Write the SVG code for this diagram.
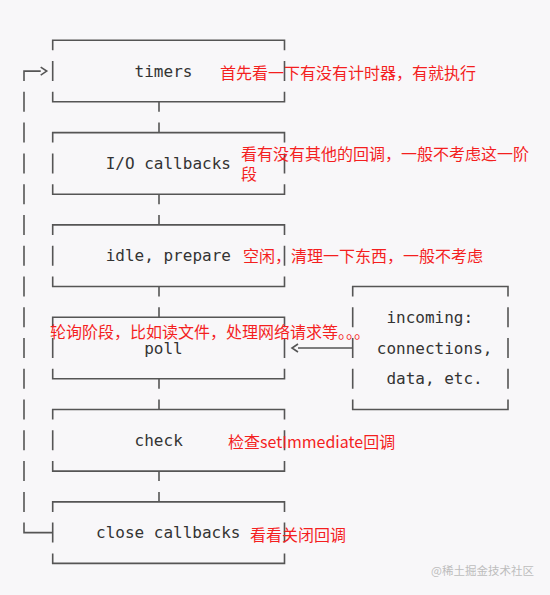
<svg xmlns="http://www.w3.org/2000/svg" width="550" height="595" viewBox="0 0 550 595">
<style>
.bg{fill:#f8f7f9}
.ln{fill:none;stroke:#555;stroke-width:1.6}
.mono{font-family:"DejaVu Sans Mono","Liberation Mono",monospace;font-size:16px;fill:#333}
.note{font-family:"Noto Sans CJK SC","Noto Sans",sans-serif;font-size:16px;fill:#f41f1f}
.wm{font-family:"Noto Sans CJK SC","Noto Sans",sans-serif;font-size:11.5px;fill:#bdbdbd}
</style>
<defs>
<marker id="chev" viewBox="0 0 6 8" refX="0" refY="4" markerWidth="6" markerHeight="8" markerUnits="userSpaceOnUse" orient="auto" overflow="visible">
<path d="M0,0 L6,4 L0,8" fill="none" stroke="#555" stroke-width="1.6"/>
</marker>
</defs>
<rect class="bg" x="0" y="0" width="550" height="595"/>
<g id="timers">
<path class="ln" d="M52.7,50.3V40.3H284.5V50.3M52.7,61.1V81.1M284.5,61.1V81.1M52.7,91.8V101.8H284.5V91.8"/>
<text class="mono" x="134.6" y="76.6">timers</text>
</g>
<g id="io-callbacks">
<path class="ln" d="M52.7,142.6V132.6H284.5V142.6M52.7,153.4V173.4M284.5,153.4V173.4M52.7,184.2V194.2H284.5V184.2"/>
<text class="mono" x="105.7" y="168.9">I/O callbacks</text>
</g>
<g id="idle-prepare">
<path class="ln" d="M52.7,234.9V224.9H284.5V234.9M52.7,245.7V265.7M284.5,245.7V265.7M52.7,276.5V286.5H284.5V276.5"/>
<text class="mono" x="105.7" y="261.2">idle, prepare</text>
</g>
<g id="poll">
<path class="ln" d="M52.7,327.2V317.2H284.5V327.2M52.7,338V358M284.5,338V358M52.7,368.8V378.8H284.5V368.8"/>
<text class="mono" x="144.2" y="353.5">poll</text>
</g>
<g id="check">
<path class="ln" d="M52.7,419.5V409.5H284.5V419.5M52.7,430.3V450.3M284.5,430.3V450.3M52.7,461.1V471.1H284.5V461.1"/>
<text class="mono" x="134.6" y="445.8">check</text>
</g>
<g id="close-callbacks">
<path class="ln" d="M52.7,511.9V501.9H284.5V511.9M52.7,522.6V542.6M284.5,522.6V542.6M52.7,553.4V563.4H284.5V553.4"/>
<text class="mono" x="96" y="538.1">close callbacks</text>
</g>
<g id="incoming">
<path class="ln" d="M352.7,296.5V286.5H508V296.5M352.7,307.2V327.2M508,307.2V327.2M352.7,338V358M508,338V358M352.7,368.8V388.8M508,368.8V388.8M352.7,399.5V409.5H508V399.5"/>
<text class="mono" x="386.4" y="322.7">incoming:</text>
<text class="mono" x="376.8" y="353.5">connections,</text>
<text class="mono" x="386.4" y="384.3">data, etc.</text>
</g>
<g id="connectors">
<path class="ln" d="M159,101.8V111.8M159,122.6V132.6M159,194.2V204.2M159,214.9V224.9M159,286.5V296.5M159,307.2V317.2M159,378.8V388.8M159,399.5V409.5M159,471.1V481.1M159,491.9V501.9"/>
<path class="ln" d="M24,81.1V71.1H40.7" marker-end="url(#chev)"/>
<path class="ln" d="M24,91.8V111.8M24,122.6V142.6M24,153.4V173.4M24,184.2V204.2M24,214.9V234.9M24,245.7V265.7M24,276.5V296.5M24,307.2V327.2M24,338V358M24,368.8V388.8M24,399.5V419.5M24,430.3V450.3M24,461.1V481.1M24,491.9V511.9"/>
<path class="ln" d="M24,522.6V532.6H52.7"/>
<path class="ln" d="M352.7,348H298" marker-end="url(#chev)"/>
</g>
<g id="notes">
<text class="note" x="220" y="78.5">首先看一下有没有计时器，有就执行</text>
<text class="note" x="241" y="159.5">看有没有其他的回调，一般不考虑这一阶</text>
<text class="note" x="241" y="179.5">段</text>
<text class="note" x="243" y="262">空闲，清理一下东西，一般不考虑</text>
<text class="note" x="50" y="338">轮询阶段，比如读文件，处理网络请求等。。。</text>
<text class="note" x="228" y="447.5">检查setImmediate回调</text>
<text class="note" x="250" y="541">看看关闭回调</text>
</g>
<text class="wm" x="431" y="575">@稀土掘金技术社区</text>
</svg>
